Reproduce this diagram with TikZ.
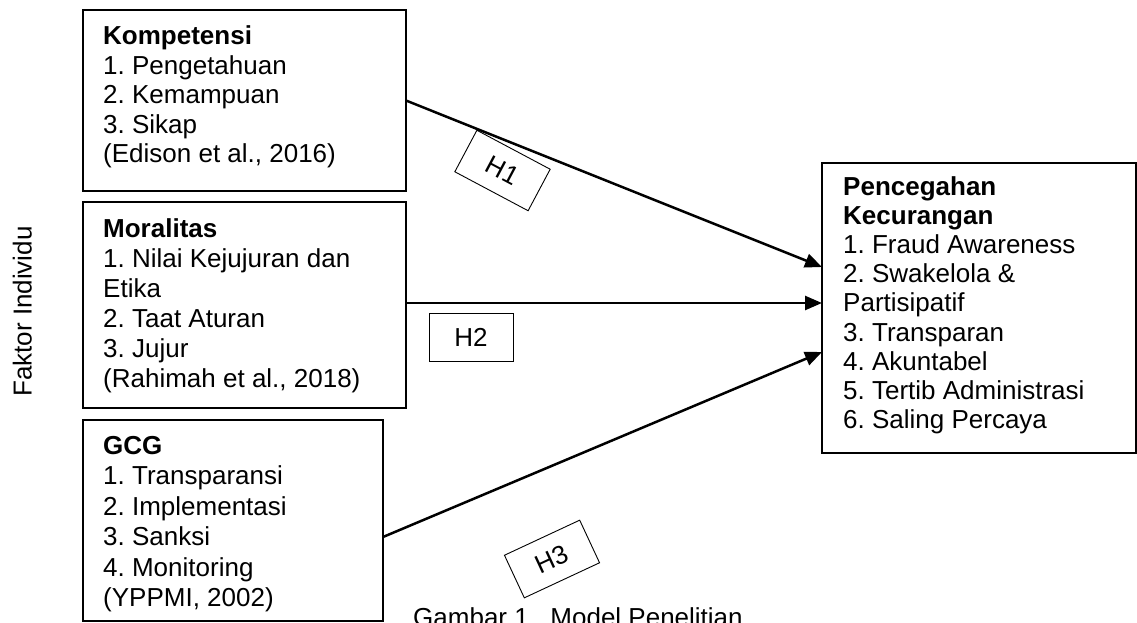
\documentclass[tikz,border=0pt]{standalone}
\usepackage{fontspec}
\setmainfont{Liberation Sans}
\usetikzlibrary{arrows.meta}
\newcommand\fsz{\fontsize{26}{29.5}\selectfont}
\frenchspacing
\begin{document}
\begin{tikzpicture}[x=1pt,y=-1pt,
  box/.style={draw, line width=2.5pt, rectangle, inner sep=0pt, outer sep=0pt},
  lbl/.style={draw, line width=0.9pt, inner sep=0pt, minimum width=83pt, minimum height=47pt, font=\fsz},
  arr/.style={line width=2.5pt, -{Triangle[length=17pt,width=14pt]}},
  txt/.style={anchor=base west, inner sep=0pt}]
\useasboundingbox (0,0) rectangle (1137,623);
% boxes
\node[box, minimum width=323pt, minimum height=181pt] (komp) at (244.5,100.5) {};
\node[box, minimum width=323pt, minimum height=206pt] (moral) at (244.5,305) {};
\node[box, minimum width=300pt, minimum height=201pt] (gcg) at (233,520.5) {};
\node[box, minimum width=314pt, minimum height=290pt] (pk) at (979,308) {};
% texts
\node[txt] (kompt) at (103,45) {\parbox[t]{295pt}{\fontsize{26}{29.5}\selectfont\raggedright\frenchspacing
\textbf{Kompetensi}\\1. Pengetahuan\\2. Kemampuan\\3. Sikap\\(Edison et al., 2016)}};
\node[txt] (moralt) at (103,237) {\parbox[t]{295pt}{\fontsize{26}{30}\selectfont\raggedright\frenchspacing
\textbf{Moralitas}\\1. Nilai Kejujuran dan\\Etika\\2. Taat Aturan\\3. Jujur\\(Rahimah et al., 2018)}};
\node[txt] (gcgt) at (103,454) {\parbox[t]{275pt}{\fontsize{26}{30.5}\selectfont\raggedright\frenchspacing
\textbf{GCG}\\1. Transparansi\\2. Implementasi\\3. Sanksi\\4. Monitoring\\(YPPMI, 2002)}};
\node[txt] (pkt) at (843,195) {\parbox[t]{290pt}{\fontsize{26}{29.2}\selectfont\raggedright\frenchspacing
\textbf{Pencegahan}\\\textbf{Kecurangan}\\1. Fraud Awareness\\2. Swakelola \&\\Partisipatif\\3. Transparan\\4. Akuntabel\\5. Tertib Administrasi\\6. Saling Percaya}};
% side label and caption
\node[txt, rotate=90, font=\fsz] (fi) at (31.7,397) {Faktor Individu};
\node[txt, font=\fsz] (cap) at (413,626) {Gambar 1.\ \ Model Penelitian};
% connectors
\draw[arr] (komp.east) -- ([yshift=41pt]pk.west);
\draw[arr] ([yshift=2pt]moral.east) -- ([yshift=5pt]pk.west);
\draw[arr] ([yshift=-16.5pt]gcg.east) -- ([yshift=-44pt]pk.west);
% hypothesis labels
\node[lbl, rotate=-28] (h1) at (502.5,170.5) {H1};
\node[lbl, minimum width=84pt, minimum height=48pt] (h2) at (471,337) {H2};
\node[lbl, rotate=25] (h3) at (552,559) {H3};
\end{tikzpicture}
\end{document}
